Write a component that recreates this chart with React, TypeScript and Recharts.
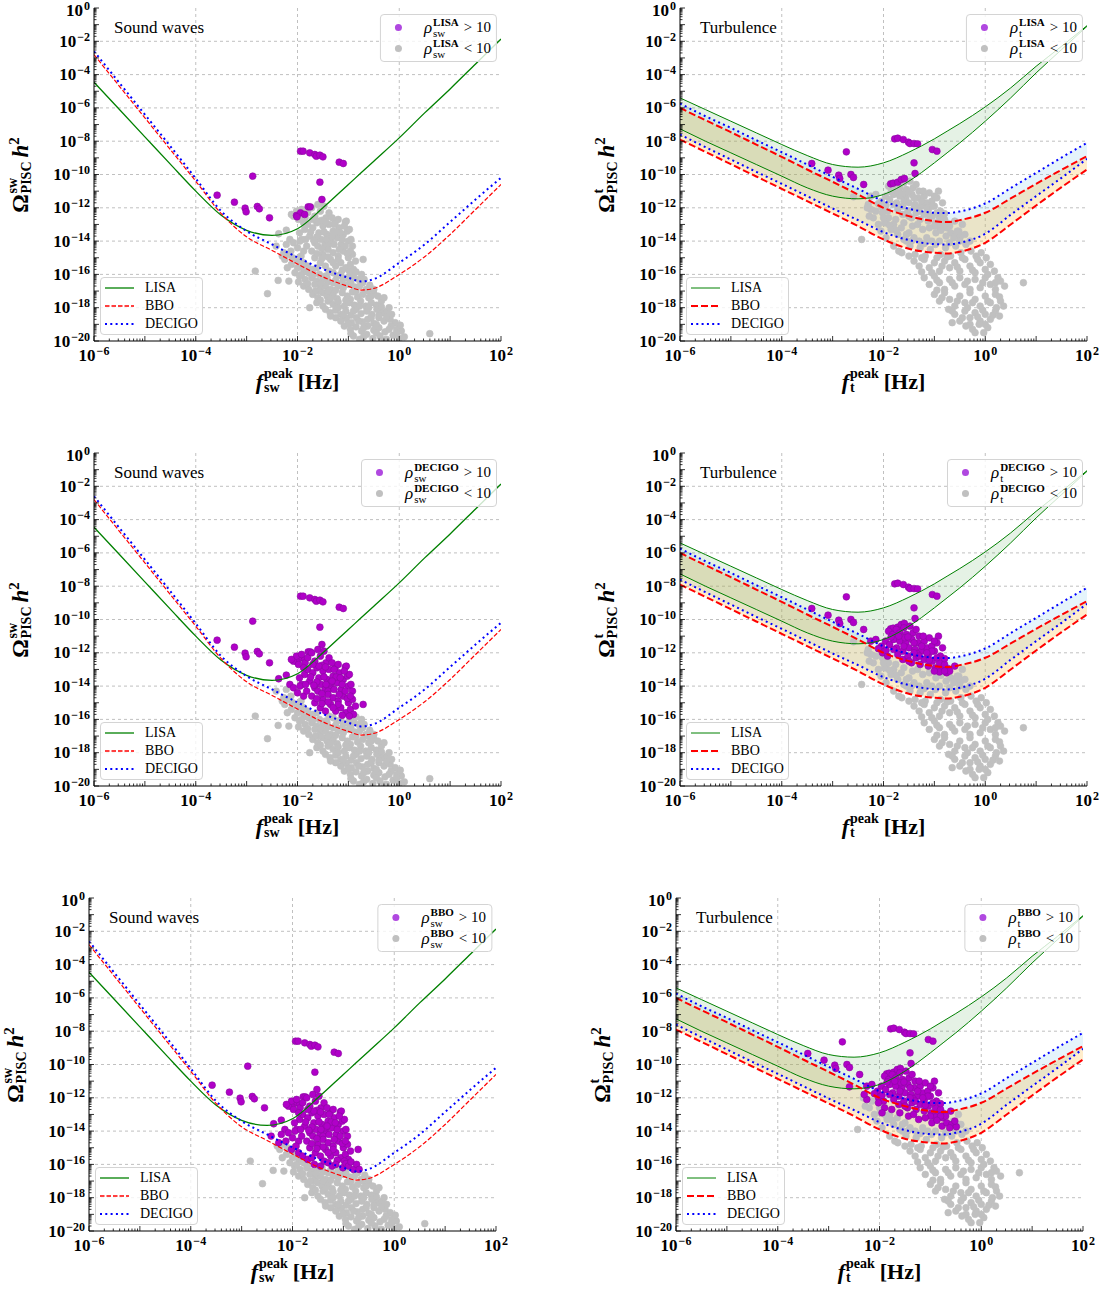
import React from "react";
import { ComposedChart, Line, Area, Scatter, XAxis, YAxis, ReferenceLine } from "recharts";

const SERIF = "'Liberation Serif', 'DejaVu Serif', serif";
const PURPLE = "#b000c8";
const GREY = "#c0c0c0";

// sensitivity curves are sampled at these log10(f / Hz)
const curveLogF = [-6, -5.5, -5, -4.5, -4, -3.5, -3, -2.5, -2, -1.5, -1, -0.75, -0.5, 0, 0.5, 1, 1.5, 2];

// sound waves: log10(Omega h^2) of the sensitivity curves
const lisaSw = [-4.46, -6.1, -7.74, -9.38, -11.0, -12.45, -13.35, -13.66, -13.26, -12.0, -10.6, -9.9, -9.2, -7.8, -6.3, -4.86, -3.36, -1.86];
const bboSw = [-2.8, -4.7, -6.6, -8.5, -10.4, -12.35, -13.74, -14.56, -15.38, -16.15, -16.72, -16.94, -16.84, -16.0, -14.94, -13.6, -12.1, -10.6];
const decigoSw = [-2.6, -4.5, -6.4, -8.3, -10.24, -12.2, -13.4, -14.2, -14.98, -15.68, -16.2, -16.42, -16.28, -15.3, -14.2, -12.85, -11.5, -10.2];

// turbulence: every detector gives a band (upper / lower edge)
const lisaTurbHi = [-5.4, -6.1, -6.8, -7.5, -8.2, -8.86, -9.4, -9.56, -9.3, -8.66, -7.86, -7.4, -6.94, -5.94, -4.8, -3.5, -2.3, -1.06];
const lisaTurbLo = [-7.26, -8.0, -8.7, -9.4, -10.1, -10.8, -11.3, -11.46, -11.2, -10.4, -9.3, -8.7, -8.1, -6.8, -5.4, -3.9, -2.5, -1.1];
const decigoTurbHi = [-5.74, -6.5, -7.2, -7.94, -8.66, -9.4, -10.14, -10.86, -11.6, -12.06, -12.3, -12.32, -12.22, -11.74, -10.82, -9.9, -8.98, -8.1];
const decigoTurbLo = [-7.6, -8.36, -9.1, -9.84, -10.56, -11.3, -12.04, -12.74, -13.46, -13.94, -14.18, -14.2, -14.1, -13.56, -12.42, -11.3, -10.2, -9.06];
const bboTurbHi = [-6.0, -6.74, -7.46, -8.2, -8.94, -9.7, -10.44, -11.2, -12.0, -12.5, -12.8, -12.86, -12.74, -12.3, -11.44, -10.56, -9.72, -8.9];
const bboTurbLo = [-7.9, -8.64, -9.38, -10.12, -10.86, -11.6, -12.34, -13.1, -13.9, -14.46, -14.7, -14.74, -14.64, -14.1, -13.0, -11.86, -10.76, -9.7];

// labelled decades
const xLabelExps = [-6, -4, -2, 0, 2];
const yLabelExps = [0, -2, -4, -6, -8, -10, -12, -14, -16, -18, -20];

// scatter points, [log10 f, log10 Omega h^2]
// sound waves: seen by LISA (and so by all)
const swAll = [
  [-1.94, -8.6], [-1.89, -8.6], [-1.76, -8.7], [-1.66, -8.8], [-1.63, -8.9], [-1.56, -8.84], [-1.5, -8.94],
  [-1.18, -9.26], [-1.1, -9.34], [-2.88, -10.1], [-3.58, -11.24], [-3.24, -11.66], [-3.03, -12.02],
  [-3.01, -12.24], [-2.79, -11.92], [-2.75, -12.06], [-2.55, -12.6], [-1.56, -10.46], [-1.52, -11.5],
  [-2.02, -12.46], [-1.94, -12.3], [-1.86, -12.4], [-1.79, -11.94], [-1.75, -11.94], [-2.01, -12.54],
];
// sound waves: seen by DECIGO and BBO
const swDecigo = [
  [-2.08, -12.5], [-2.02, -12.2], [-1.98, -12.7], [-1.92, -12.1], [-1.85, -12.6], [-1.8, -12.3], [-1.72, -12.0],
  [-1.66, -12.5], [-1.6, -11.8], [-1.55, -12.2], [-1.48, -11.9], [-1.44, -12.6], [-1.52, -12.75], [-1.38, -12.3],
  [-2.12, -12.4], [-1.92, -13.9], [-1.86, -13.3], [-1.8, -13.0], [-1.76, -13.7], [-1.7, -13.2], [-1.66, -14.1],
  [-1.62, -12.9], [-1.58, -13.5], [-1.54, -13.9], [-1.5, -13.1], [-1.46, -14.2], [-1.42, -13.6], [-1.38, -13.0],
  [-1.34, -14.0], [-1.3, -13.4], [-1.26, -12.9], [-1.22, -13.8], [-1.18, -13.2], [-1.14, -14.2], [-1.1, -13.6],
  [-1.06, -12.85], [-1.02, -13.4], [-1.0, -14.0], [-1.58, -12.8], [-1.45, -12.85], [-1.32, -12.6], [-1.2, -12.7],
  [-1.04, -12.8], [-0.98, -13.3], [-0.95, -13.9], [-0.92, -14.3], [-1.74, -13.45], [-1.62, -13.75], [-1.48, -13.45],
  [-1.36, -13.8], [-1.24, -13.45], [-1.12, -13.9], [-1.4, -14.3], [-1.28, -14.2], [-1.6, -14.3], [-1.72, -14.6],
  [-1.66, -15.0], [-1.55, -15.3], [-1.5, -14.8], [-1.45, -15.5], [-1.4, -14.5], [-1.35, -15.1], [-1.3, -14.7],
  [-1.25, -15.5], [-1.2, -14.9], [-1.15, -15.3], [-1.1, -14.6], [-1.05, -15.6], [-1.0, -15.0], [-0.96, -15.4],
  [-0.92, -14.8], [-0.9, -15.7], [-0.86, -15.2], [-0.71, -15.1], [-1.12, -15.75], [-0.98, -15.8], [-2.15, -13.9],
  [-2.08, -14.1], [-2.0, -14.4], [-1.95, -14.0], [-1.88, -14.6], [-1.82, -14.3], [-2.37, -13.56], [-2.22, -13.34],
  [-1.96, -13.5], [-1.84, -13.9], [-1.68, -13.95], [-1.52, -14.45], [-1.44, -13.9], [-1.32, -13.7], [-1.18, -14.5],
  [-1.06, -14.3], [-1.02, -14.75], [-1.2, -15.1], [-1.4, -14.95], [-1.62, -14.75], [-1.3, -15.3], [-1.52, -15.05],
  [-0.96, -14.6], [-1.16, -13.5], [-1.08, -13.1], [-1.28, -13.0], [-1.7, -12.7], [-1.88, -12.9],
];
// sound waves: seen by BBO only
const swBbo = [
  [-2.42, -14.3], [-2.22, -14.2], [-2.27, -14.7], [-2.13, -14.6], [-2.02, -15.1], [-1.93, -14.9], [-1.88, -15.3],
  [-1.8, -15.5], [-1.7, -15.7], [-1.62, -15.6], [-1.57, -16.0], [-1.45, -16.1], [-1.38, -15.8], [-1.3, -15.9],
  [-1.22, -16.1], [-1.15, -16.0], [-1.01, -16.2], [-0.95, -15.95], [-0.9, -16.1], [-0.85, -15.85], [-0.8, -16.3],
  [-0.74, -16.0], [-0.69, -16.3],
];
// sound waves: seen by none
const swNone = [
  [-2.3, -14.9], [-2.18, -14.8], [-2.1, -15.0], [-2.25, -15.1], [-2.12, -15.4], [-2.0, -15.6], [-1.95, -15.3],
  [-1.85, -15.8], [-1.78, -15.9], [-2.05, -15.9], [-1.96, -16.1], [-1.85, -16.3], [-1.72, -16.2], [-1.62, -16.4],
  [-1.5, -16.3], [-1.4, -16.45], [-1.3, -16.5], [-1.88, -16.7], [-1.78, -16.9], [-1.66, -16.6], [-1.55, -16.8],
  [-1.45, -16.7], [-1.35, -16.9], [-1.2, -16.7], [-1.1, -16.8], [-1.0, -16.6], [-0.88, -16.75], [-0.78, -16.7],
  [-0.65, -16.9], [-0.58, -16.65], [-1.7, -17.2], [-1.6, -17.4], [-1.5, -17.1], [-1.42, -17.3], [-1.3, -17.2],
  [-1.22, -17.45], [-1.12, -17.1], [-1.02, -17.3], [-0.92, -17.05], [-0.82, -17.35], [-0.72, -17.2], [-0.6, -17.4],
  [-0.5, -17.15], [-0.42, -17.3], [-1.62, -17.7], [-1.5, -17.9], [-1.4, -17.6], [-1.3, -17.8], [-1.2, -17.65],
  [-1.08, -17.9], [-0.98, -17.7], [-0.88, -17.85], [-0.76, -17.6], [-0.66, -17.9], [-0.55, -17.7], [-0.45, -17.85],
  [-0.35, -17.6], [-1.45, -18.1], [-1.36, -18.3], [-1.25, -18.15], [-1.15, -18.4], [-1.05, -18.2], [-0.95, -18.45],
  [-0.85, -18.1], [-0.75, -18.35], [-0.64, -18.2], [-0.54, -18.4], [-0.44, -18.1], [-0.34, -18.3], [-0.24, -18.2],
  [-1.25, -18.6], [-1.15, -18.8], [-1.04, -18.65], [-0.94, -18.9], [-0.84, -18.6], [-0.72, -18.85], [-0.62, -18.7],
  [-0.5, -18.95], [-0.4, -18.6], [-0.3, -18.8], [-0.18, -18.7], [-0.08, -18.9], [-1.08, -19.1], [-0.96, -19.3],
  [-0.85, -19.15], [-0.74, -19.4], [-0.62, -19.1], [-0.5, -19.35], [-0.4, -19.2], [-0.28, -19.45], [-0.16, -19.1],
  [-0.05, -19.3], [0.04, -19.4], [-0.9, -19.7], [-0.78, -19.9], [-0.64, -19.6], [-0.52, -19.85], [-0.38, -19.7],
  [-0.25, -19.9], [-0.12, -19.65], [0.0, -19.85], [0.1, -19.75], [-2.83, -15.8], [-2.59, -17.16], [-2.38, -16.36],
  [-2.17, -16.4], [0.6, -19.56], [-1.76, -18.0], [-1.92, -16.0], [-1.58, -17.0], [-1.25, -16.95], [-0.96, -17.5],
  [-2.2, -15.6], [-1.9, -15.6], [-1.7, -16.05], [-1.55, -16.55], [-1.42, -16.2], [-1.25, -16.35], [-1.12, -16.5],
  [-0.95, -16.45], [-0.72, -16.5], [-0.62, -17.0], [-0.85, -17.0], [-1.4, -17.0], [-1.65, -17.0], [-1.35, -17.45],
  [-1.05, -17.55], [-0.78, -17.9], [-0.55, -17.3], [-0.35, -17.95], [-1.55, -17.55], [-1.2, -18.0], [-0.9, -18.2],
  [-0.6, -18.0], [-0.4, -18.45], [-0.15, -18.4], [-1.35, -18.5], [-1.1, -18.45], [-0.8, -18.8], [-0.55, -18.6],
  [-0.25, -18.55], [-1.0, -18.95], [-0.7, -19.2], [-0.45, -19.0], [-0.2, -19.3], [0.02, -19.05], [-0.95, -19.55],
  [-0.7, -19.75], [-0.45, -19.5], [-0.3, -19.95], [-0.05, -19.5], [-1.98, -16.45], [-1.8, -16.55], [-1.1, -16.25],
  [-0.5, -16.9], [-0.3, -17.4], [-0.2, -18.0],
];

// turbulence: seen by LISA (and so by all)
const tAll = [
  [-1.78, -7.86], [-1.72, -7.82], [-1.61, -7.9], [-1.51, -8.06], [-1.48, -8.14], [-1.4, -8.14], [-1.33, -8.16],
  [-1.04, -8.5], [-0.95, -8.6], [-2.73, -8.64], [-3.41, -9.34], [-3.09, -9.74], [-2.88, -10.04], [-2.86, -10.24],
  [-2.64, -10.0], [-2.59, -10.18], [-2.39, -10.6], [-1.4, -9.3], [-1.38, -9.94], [-1.86, -10.56], [-1.81, -10.52],
  [-1.72, -10.46], [-1.65, -10.3], [-1.59, -10.24],
];
// turbulence: seen by DECIGO and BBO
const tDecigo = [
  [-1.9, -10.7], [-1.82, -10.9], [-1.75, -10.6], [-1.68, -10.8], [-1.6, -10.5], [-1.55, -10.9], [-1.48, -10.4],
  [-1.42, -10.8], [-1.36, -10.6], [-1.3, -11.0], [-2.04, -11.6], [-1.96, -11.3], [-1.88, -11.5], [-1.8, -11.2],
  [-1.74, -11.7], [-1.68, -11.3], [-1.62, -11.9], [-1.56, -11.4], [-1.5, -11.7], [-1.44, -11.2], [-1.38, -11.8],
  [-1.32, -11.4], [-1.26, -11.9], [-1.2, -11.3], [-1.15, -11.7], [-1.1, -11.1], [-1.05, -11.6], [-1.0, -11.9],
  [-0.95, -11.4], [-0.92, -11.0], [-2.02, -12.0], [-1.92, -12.2], [-1.72, -12.1], [-1.62, -12.4], [-1.52, -12.2],
  [-1.45, -12.6], [-1.36, -12.3], [-1.28, -12.7], [-1.2, -12.4], [-1.12, -12.8], [-1.04, -12.5], [-0.98, -12.9],
  [-0.9, -12.6], [-0.85, -13.0], [-0.8, -12.7], [-0.76, -13.2], [-0.73, -12.95], [-0.9, -13.15], [-1.0, -13.1],
  [-0.6, -12.8], [-2.25, -11.3], [-2.15, -11.2], [-2.1, -11.75], [-1.58, -11.1], [-1.34, -12.05], [-1.12, -12.15],
  [-0.88, -12.2], [-0.84, -11.7], [-1.85, -11.05], [-1.7, -11.0], [-1.52, -11.05], [-1.4, -11.4], [-1.25, -11.6],
  [-1.05, -11.9], [-1.15, -12.0], [-1.3, -12.2], [-1.5, -12.5], [-1.4, -12.0], [-1.6, -11.6], [-1.8, -11.8],
  [-1.95, -11.85], [-1.1, -12.45], [-0.95, -12.3], [-0.8, -12.35], [-1.22, -11.0], [-1.0, -11.3], [-0.7, -13.1],
  [-0.8, -13.1],
];
// turbulence: seen by BBO only
const tBbo = [
  [-2.59, -11.34], [-2.25, -12.1], [-2.02, -12.3], [-1.9, -12.6], [-1.76, -12.7], [-1.6, -12.9], [-1.43, -13.1],
  [-1.33, -13.0], [-1.23, -13.3], [-1.1, -13.2], [-0.97, -13.5], [-0.87, -13.35], [-0.77, -13.7], [-0.68, -13.5],
  [-0.58, -13.6], [-0.49, -13.74], [-0.52, -13.4], [-0.62, -13.8], [-2.3, -11.8], [-1.95, -12.9],
];
// turbulence: seen by none
const tNone = [
  [-2.32, -12.0], [-2.2, -12.6], [-2.1, -13.0], [-2.28, -12.5], [-2.15, -12.2], [-1.98, -12.9], [-1.8, -13.0],
  [-1.65, -13.2], [-2.05, -13.4], [-1.95, -13.8], [-1.85, -13.3], [-1.72, -13.6], [-1.6, -13.9], [-1.5, -13.5],
  [-1.4, -13.8], [-1.3, -14.0], [-1.15, -13.8], [-1.05, -14.0], [-0.45, -13.0], [-0.4, -13.6], [-0.3, -14.0],
  [-1.8, -14.3], [-1.7, -14.6], [-1.64, -14.7], [-1.48, -14.3], [-1.38, -14.8], [-1.28, -14.4], [-1.18, -14.9],
  [-1.08, -14.5], [-0.98, -14.2], [-0.88, -14.8], [-0.78, -14.4], [-0.68, -14.9], [-0.58, -14.3], [-0.48, -14.7],
  [-0.38, -14.2], [-0.28, -14.6], [-0.18, -14.9], [-0.08, -14.7], [0.02, -15.0], [-1.4, -15.2], [-1.3, -15.5],
  [-1.2, -15.1], [-1.1, -15.6], [-1.0, -15.3], [-0.9, -15.8], [-0.8, -15.2], [-0.7, -15.6], [-0.6, -15.3],
  [-0.5, -15.8], [-0.4, -15.1], [-0.3, -15.5], [-0.2, -15.9], [-0.1, -15.3], [0.0, -15.7], [0.1, -15.4],
  [0.18, -15.8], [-1.2, -16.2], [-1.1, -16.6], [-1.0, -16.1], [-0.9, -16.5], [-0.8, -16.9], [-0.7, -16.3],
  [-0.6, -16.7], [-0.5, -16.2], [-0.4, -16.6], [-0.3, -16.9], [-0.2, -16.3], [-0.1, -16.8], [0.0, -16.2],
  [0.1, -16.6], [0.2, -16.9], [0.3, -16.4], [0.38, -16.7], [-1.0, -17.2], [-0.9, -17.6], [-0.8, -17.1],
  [-0.7, -17.5], [-0.6, -17.9], [-0.5, -17.3], [-0.4, -17.7], [-0.3, -17.1], [-0.2, -17.5], [-0.1, -17.9],
  [0.0, -17.3], [0.1, -17.7], [0.2, -17.2], [0.3, -17.6], [0.36, -17.9], [-0.72, -18.1], [-0.6, -18.4],
  [-0.5, -18.8], [-0.4, -18.2], [-0.3, -18.6], [-0.2, -18.3], [-0.1, -18.8], [0.0, -18.4], [0.1, -18.7],
  [0.2, -18.2], [0.28, -18.5], [-0.38, -19.1], [-0.25, -19.3], [-0.12, -19.0], [-0.03, -19.5], [0.05, -19.2],
  [0.75, -16.5], [-2.43, -13.9], [-1.25, -15.85], [-0.95, -16.95], [-0.65, -18.9], [-1.55, -14.0], [-0.55, -13.4],
  [-2.0, -12.6], [-1.88, -13.05], [-1.75, -13.35], [-1.55, -13.6], [-1.45, -14.0], [-1.2, -14.15], [-0.9, -14.0],
  [-0.7, -14.1], [-0.5, -14.0], [-1.5, -14.9], [-1.25, -15.0], [-0.95, -15.0], [-0.75, -14.95], [-0.45, -15.0],
  [-0.15, -15.1], [-1.05, -15.9], [-0.85, -15.5], [-0.55, -15.55], [-0.25, -15.75], [0.05, -16.0], [0.25, -16.2],
  [-0.95, -16.35], [-0.65, -16.5], [-0.35, -16.4], [-0.05, -16.5], [0.2, -16.5], [-0.85, -17.4], [-0.55, -17.6],
  [-0.25, -17.7], [0.05, -17.6], [0.28, -17.35], [-0.65, -18.2], [-0.35, -18.0], [-0.05, -18.15], [0.22, -18.0],
  [-0.45, -18.6], [-0.15, -18.55], [0.15, -18.45], [-0.3, -19.0], [0.0, -19.0], [-0.2, -19.5],
];

type Pt = { f: number; omega: number };
const toPts = (rows: number[][]): Pt[] => rows.map(([lf, lo]) => ({ f: 10 ** lf, omega: 10 ** lo }));

const swCurves = curveLogF.map((lf, i) => ({
  f: 10 ** lf,
  lisa: 10 ** lisaSw[i],
  bbo: 10 ** bboSw[i],
  decigo: 10 ** decigoSw[i],
}));

const turbCurves = curveLogF.map((lf, i) => ({
  f: 10 ** lf,
  lisaHi: 10 ** lisaTurbHi[i],
  lisaLo: 10 ** lisaTurbLo[i],
  lisaBand: [10 ** lisaTurbLo[i], 10 ** lisaTurbHi[i]],
  decigoHi: 10 ** decigoTurbHi[i],
  decigoLo: 10 ** decigoTurbLo[i],
  decigoBand: [10 ** decigoTurbLo[i], 10 ** decigoTurbHi[i]],
  bboHi: 10 ** bboTurbHi[i],
  bboLo: 10 ** bboTurbLo[i],
  bboBand: [10 ** bboTurbLo[i], 10 ** bboTurbHi[i]],
}));

// decade + minor tick positions for the log axes
const logTicks = (from: number, to: number) => {
  const out: number[] = [];
  for (let e = from; e < to; e++) for (let m = 1; m <= 9; m++) out.push(m * 10 ** e);
  out.push(10 ** to);
  return out;
};
const xTicks = logTicks(-6, 2);
const yTicks = logTicks(-20, 0);
const xGrid = [1e-4, 1e-2, 1];
const yGrid = yLabelExps.filter((e) => e < 0 && e > -20).map((e) => 10 ** e);

const expText = (e: number) => (e < 0 ? "\u2212" + -e : String(e));
const tickInfo = (v: number) => {
  const lg = Math.log10(v);
  const e = Math.round(lg);
  return { e, major: Math.abs(lg - e) < 1e-6 };
};

const TickLabel = ({ x, y, e, anchor }: { x: number; y: number; e: number; anchor: "middle" | "end" }) => (
  <text x={x} y={y} textAnchor={anchor} fontFamily={SERIF} fontWeight="bold" fontSize={17} fill="#000">
    10<tspan dx={1} dy={-6} fontSize={12}>{expText(e)}</tspan>
  </text>
);

const BottomTick = (p: any) => {
  const { e, major } = tickInfo(p.payload.value);
  return (
    <g>
      <line x1={p.x} x2={p.x} y1={p.y} y2={p.y - (major ? 5 : 2.5)} stroke="#000" strokeWidth={0.8} />
      {major && xLabelExps.includes(e) && <TickLabel x={p.x} y={p.y + 20} e={e} anchor="middle" />}
    </g>
  );
};
const TopTick = (p: any) => {
  const { major } = tickInfo(p.payload.value);
  return <line x1={p.x} x2={p.x} y1={p.y} y2={p.y + (major ? 5 : 2.5)} stroke="#000" strokeWidth={0.8} />;
};
const LeftTick = (p: any) => {
  const { e, major } = tickInfo(p.payload.value);
  // the top label sits right at the page edge, nudge it down a little
  const dy = e === 0 ? 8 : 5.5;
  return (
    <g>
      <line x1={p.x} x2={p.x + (major ? 5 : 2.5)} y1={p.y} y2={p.y} stroke="#000" strokeWidth={0.8} />
      {major && yLabelExps.includes(e) && <TickLabel x={p.x - 4} y={p.y + dy} e={e} anchor="end" />}
    </g>
  );
};
const RightTick = (p: any) => {
  const { major } = tickInfo(p.payload.value);
  return <line x1={p.x} x2={p.x - (major ? 5 : 2.5)} y1={p.y} y2={p.y} stroke="#000" strokeWidth={0.8} />;
};

const Stack = ({ sup, sub, size, bold }: { sup: string; sub: string; size: number; bold?: boolean }) => (
  <span
    style={{
      display: "inline-flex",
      flexDirection: "column",
      fontSize: size,
      lineHeight: 1.0,
      verticalAlign: "0.75em",
      marginLeft: 1,
      fontStyle: "normal",
    }}
  >
    <span style={{ fontWeight: bold ? "bold" : "normal" }}>{sup}</span>
    <span>{sub}</span>
  </span>
);

const PW = 407;
const PH = 333;
const ML = 60;
const MT = 10;
const MR = 26;
const XH = 30;

interface PanelCfg {
  left: number;
  top: number;
  kind: "sw" | "t";
  det: string;
  detected: Pt[];
  missed: Pt[];
}

const dot = (fill: string, stroke: string) => (p: any) =>
  <circle cx={p.cx} cy={p.cy} r={3.4} fill={fill} stroke={stroke} strokeWidth={0.6} />;

function DetLegend({ cfg }: { cfg: PanelCfg }) {
  const sub = cfg.kind === "sw" ? "sw" : "t";
  const row = (color: string, sign: string) => (
    <div style={{ display: "flex", alignItems: "center", height: 21 }}>
      <span style={{ width: 7, height: 7, borderRadius: 4, background: color, display: "inline-block", marginLeft: 14, marginRight: 22 }} />
      <span style={{ fontStyle: "italic", fontSize: 17 }}>ρ</span>
      <Stack sup={cfg.det} sub={sub} size={11} bold />
      <span style={{ marginLeft: 5 }}>{sign} 10</span>
    </div>
  );
  return (
    <div
      style={{
        position: "absolute",
        left: cfg.left + PW - 4,
        top: cfg.top + 6,
        transform: "translateX(-100%)",
        border: "1px solid #d4d4d4",
        borderRadius: 4,
        background: "rgba(255,255,255,0.8)",
        padding: "2px 5px 2px 0",
        fontFamily: SERIF,
        fontSize: 15,
        whiteSpace: "nowrap",
      }}
    >
      {row("#b048e0", ">")}
      {row(GREY, "<")}
    </div>
  );
}

function LineLegend({ cfg }: { cfg: PanelCfg }) {
  const t = cfg.kind === "t";
  const items = [
    { name: "LISA", color: "#008000", w: t ? 1 : 1.3, dash: undefined },
    { name: "BBO", color: "#ff0000", w: t ? 2 : 1.3, dash: t ? "7 3" : "4.5 2" },
    { name: "DECIGO", color: "#0000ff", w: 2, dash: "2 3.3" },
  ];
  return (
    <div
      style={{
        position: "absolute",
        left: cfg.left + 6,
        top: cfg.top + PH - 8 - 56,
        width: 101,
        height: 54,
        border: "1px solid #d4d4d4",
        borderRadius: 4,
        background: "rgba(255,255,255,0.8)",
        fontFamily: SERIF,
        fontSize: 14,
        padding: "1px 0",
      }}
    >
      {items.map((it) => (
        <div key={it.name} style={{ display: "flex", alignItems: "center", height: 18 }}>
          <svg width={40} height={10} style={{ marginLeft: 4 }}>
            <line x1={0} x2={29} y1={5} y2={5} stroke={it.color} strokeWidth={it.w} strokeDasharray={it.dash} />
          </svg>
          <span>{it.name}</span>
        </div>
      ))}
    </div>
  );
}

function Panel({ cfg }: { cfg: PanelCfg }) {
  const sw = cfg.kind === "sw";
  const sub = sw ? "sw" : "t";
  return (
    <>
      <div style={{ position: "absolute", left: cfg.left - ML, top: cfg.top - MT }}>
        <ComposedChart
          width={ML + PW + MR}
          height={MT + PH + XH}
          data={sw ? swCurves : turbCurves}
          margin={{ top: MT, right: MR, bottom: 0, left: 0 }}
          style={{ overflow: "visible" }}
        >
          <XAxis
            dataKey="f"
            type="number"
            scale="log"
            domain={[1e-6, 1e2]}
            allowDataOverflow
            ticks={xTicks}
            interval={0}
            tick={(p: any) => <BottomTick {...p} />}
            tickLine={false}
            tickSize={0}
            tickMargin={0}
            height={XH}
            axisLine={{ stroke: "#000", strokeWidth: 1 }}
          />
          <XAxis
            xAxisId="top"
            orientation="top"
            dataKey="f"
            type="number"
            scale="log"
            domain={[1e-6, 1e2]}
            allowDataOverflow
            ticks={xTicks}
            interval={0}
            tick={(p: any) => <TopTick {...p} />}
            tickLine={false}
            tickSize={0}
            tickMargin={0}
            height={0}
            axisLine={{ stroke: "#000", strokeWidth: 1 }}
          />
          <YAxis
            dataKey="omega"
            type="number"
            scale="log"
            domain={[1e-20, 1]}
            allowDataOverflow
            ticks={yTicks}
            interval={0}
            tick={(p: any) => <LeftTick {...p} />}
            tickLine={false}
            tickSize={0}
            tickMargin={0}
            width={ML}
            axisLine={{ stroke: "#000", strokeWidth: 1 }}
          />
          <YAxis
            yAxisId="right"
            orientation="right"
            type="number"
            scale="log"
            domain={[1e-20, 1]}
            allowDataOverflow
            ticks={yTicks}
            interval={0}
            tick={(p: any) => <RightTick {...p} />}
            tickLine={false}
            tickSize={0}
            tickMargin={0}
            width={0}
            axisLine={{ stroke: "#000", strokeWidth: 1 }}
          />
          {xGrid.map((v) => (
            <ReferenceLine key={"x" + v} x={v} stroke="#b0b0b0" strokeDasharray="3 3" strokeWidth={0.8} zIndex={-50} />
          ))}
          {yGrid.map((v) => (
            <ReferenceLine key={"y" + v} y={v} stroke="#b0b0b0" strokeDasharray="3 3" strokeWidth={0.8} zIndex={-50} />
          ))}
          {!sw && (
            <Area dataKey="lisaBand" type="monotone" fill="#008000" fillOpacity={0.1} stroke="none" isAnimationActive={false} zIndex={100} />
          )}
          {!sw && (
            <Area dataKey="decigoBand" type="monotone" fill="#87ceeb" fillOpacity={0.22} stroke="none" isAnimationActive={false} zIndex={100} />
          )}
          {!sw && (
            <Area dataKey="bboBand" type="monotone" fill="#ffa500" fillOpacity={0.2} stroke="none" isAnimationActive={false} zIndex={100} />
          )}
          <Scatter data={cfg.missed} fill={GREY} shape={dot(GREY, GREY)} isAnimationActive={false} zIndex={200} />
          <Scatter data={cfg.detected} fill={PURPLE} shape={dot(PURPLE, "#8a0aa0")} isAnimationActive={false} zIndex={300} />
          {sw && <Line dataKey="lisa" type="monotone" stroke="#008000" strokeWidth={1.3} dot={false} isAnimationActive={false} zIndex={400} />}
          {sw && <Line dataKey="bbo" type="monotone" stroke="#ff0000" strokeWidth={1.2} strokeDasharray="4.5 2" dot={false} isAnimationActive={false} zIndex={400} />}
          {sw && <Line dataKey="decigo" type="monotone" stroke="#0000ff" strokeWidth={2} strokeDasharray="2 3.3" dot={false} isAnimationActive={false} zIndex={400} />}
          {!sw && <Line dataKey="lisaHi" type="monotone" stroke="#008000" strokeWidth={1} dot={false} isAnimationActive={false} zIndex={400} />}
          {!sw && <Line dataKey="lisaLo" type="monotone" stroke="#008000" strokeWidth={1} dot={false} isAnimationActive={false} zIndex={400} />}
          {!sw && <Line dataKey="decigoHi" type="monotone" stroke="#0000ff" strokeWidth={2} strokeDasharray="2 3.3" dot={false} isAnimationActive={false} zIndex={400} />}
          {!sw && <Line dataKey="decigoLo" type="monotone" stroke="#0000ff" strokeWidth={2} strokeDasharray="2 3.3" dot={false} isAnimationActive={false} zIndex={400} />}
          {!sw && <Line dataKey="bboHi" type="monotone" stroke="#ff0000" strokeWidth={2} strokeDasharray="7 3" dot={false} isAnimationActive={false} zIndex={400} />}
          {!sw && <Line dataKey="bboLo" type="monotone" stroke="#ff0000" strokeWidth={2} strokeDasharray="7 3" dot={false} isAnimationActive={false} zIndex={400} />}
        </ComposedChart>
      </div>

      <div style={{ position: "absolute", left: cfg.left + 20, top: cfg.top + 10, fontFamily: SERIF, fontSize: 17 }}>
        {sw ? "Sound waves" : "Turbulence"}
      </div>
      <DetLegend cfg={cfg} />
      <LineLegend cfg={cfg} />

      <div
        style={{
          position: "absolute",
          left: cfg.left - 74,
          top: cfg.top + PH / 2,
          transform: "translate(-50%, -50%) rotate(-90deg)",
          fontFamily: SERIF,
          fontWeight: "bold",
          fontSize: 23,
          whiteSpace: "nowrap",
        }}
      >
        Ω<Stack sup={sub} sub="PISC" size={14} bold />
        <span style={{ fontStyle: "italic", marginLeft: 4 }}>h</span>
        <sup style={{ fontSize: "0.65em" }}>2</sup>
      </div>
      <div
        style={{
          position: "absolute",
          left: cfg.left + PW / 2,
          top: cfg.top + PH + 26,
          transform: "translateX(-50%)",
          fontFamily: SERIF,
          fontWeight: "bold",
          fontSize: 22,
          whiteSpace: "nowrap",
        }}
      >
        <span style={{ fontStyle: "italic" }}>f</span>
        <Stack sup="peak" sub={sub} size={14} bold />
        <span style={{ marginLeft: 5 }}>[Hz]</span>
      </div>
    </>
  );
}

const swDetectors = {
  LISA: { detected: swAll, missed: [...swDecigo, ...swBbo, ...swNone] },
  DECIGO: { detected: [...swAll, ...swDecigo], missed: [...swBbo, ...swNone] },
  BBO: { detected: [...swAll, ...swDecigo, ...swBbo], missed: swNone },
};
const tDetectors = {
  LISA: { detected: tAll, missed: [...tDecigo, ...tBbo, ...tNone] },
  DECIGO: { detected: [...tAll, ...tDecigo], missed: [...tBbo, ...tNone] },
  BBO: { detected: [...tAll, ...tDecigo, ...tBbo], missed: tNone },
};

const layout: { left: number; top: number; kind: "sw" | "t"; det: "LISA" | "DECIGO" | "BBO" }[] = [
  { left: 94, top: 8, kind: "sw", det: "LISA" },
  { left: 680, top: 8, kind: "t", det: "LISA" },
  { left: 94, top: 453, kind: "sw", det: "DECIGO" },
  { left: 680, top: 453, kind: "t", det: "DECIGO" },
  { left: 89, top: 898, kind: "sw", det: "BBO" },
  { left: 676, top: 898, kind: "t", det: "BBO" },
];

export default function App() {
  return (
    <div style={{ position: "absolute", left: 0, top: 0, width: 1106, height: 1291, background: "#fff" }}>
      {layout.map((l) => {
        const src = l.kind === "sw" ? swDetectors[l.det] : tDetectors[l.det];
        const cfg: PanelCfg = { ...l, detected: toPts(src.detected), missed: toPts(src.missed) };
        return <Panel key={l.kind + l.det} cfg={cfg} />;
      })}
    </div>
  );
}
